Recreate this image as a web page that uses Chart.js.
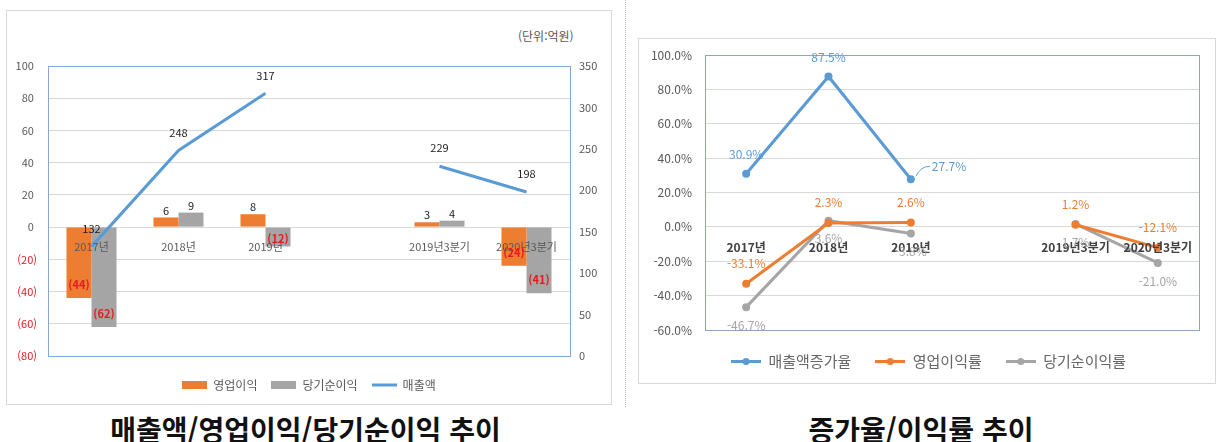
<!DOCTYPE html>
<html lang="ko">
<head>
<meta charset="utf-8">
<title>매출액/영업이익/당기순이익 추이</title>
<script src="https://cdn.jsdelivr.net/npm/chart.js@4.4.1/dist/chart.umd.min.js"></script>
<style>
  html, body { margin: 0; padding: 0; background: #fff; }
  body { width: 1221px; height: 442px; position: relative; overflow: hidden; font-family: "Noto Sans CJK KR", sans-serif; }
  .frame { position: absolute; border: 1px solid #d9d9d9; box-sizing: border-box; }
  .holder { position: absolute; }
  .caption { position: absolute; top: 413px; line-height: 32px; font-size: 28px; font-weight: bold; color: #111; text-align: center; }
  .divider { position: absolute; left: 625px; top: 0; height: 407px; border-left: 1px dotted #bdbdbd; }
  .unit { position: absolute; left: 518px; top: 28px; line-height: 16px; font-size: 12px; color: #595959; }
</style>
</head>
<body>
  <div class="frame" style="left:6px;top:10px;width:606px;height:395px;"></div>
  <div class="frame" style="left:638px;top:38px;width:578px;height:346px;"></div>
  <div class="divider"></div>
  <div class="unit">(단위:억원)</div>
  <div class="holder" style="left:6px;top:10px;"><canvas id="amountChart" width="606" height="391"></canvas></div>
  <div class="holder" style="left:638px;top:38px;"><canvas id="rateChart" width="577" height="341"></canvas></div>
  <div class="caption" style="left:0;width:611px;">매출액/영업이익/당기순이익 추이</div>
  <div class="caption" style="left:621px;width:600px;">증가율/이익률 추이</div>

<script>
// categories (the empty one is the gap Excel left between 2019 and the quarters)
const periods = ["2017년", "2018년", "2019년", "", "2019년3분기", "2020년3분기"];

// left chart, 억원
const operatingProfit = [-44, 6, 8, null, 3, -24];
const netProfit = [-62, 9, -12, null, 4, -41];
const sales = [132, 248, 317, null, 229, 198];
const profitAxis = [-80, 100, 20]; // min, max, step
const salesAxis = [0, 350, 50];

// right chart, %
const salesGrowth = [30.9, 87.5, 27.7, null, null, null];
const operatingMargin = [-33.1, 2.3, 2.6, null, 1.2, -12.1];
const netMargin = [-46.7, 3.6, -3.8, null, 1.7, -21.0];
const rateAxis = [-60, 100, 20];

const ORANGE = "#ED7D31";
const GRAY = "#A5A5A5";
const BLUE = "#5B9BD5";
const TICK = "#595959";
const FONT = "'Noto Sans CJK KR', sans-serif";

function legendMark(kind, color, w, h) {
  var c = document.createElement("canvas");
  c.width = w;
  c.height = h;
  var g = c.getContext("2d");
  if (kind === "box") {
    g.fillStyle = color;
    g.fillRect(0, 0, w, h);
  } else {
    g.strokeStyle = color;
    g.lineWidth = 3;
    g.beginPath();
    g.moveTo(0, h / 2);
    g.lineTo(w, h / 2);
    g.stroke();
    if (kind === "dot") {
      g.fillStyle = color;
      g.beginPath();
      g.arc(w / 2, h / 2, 3.5, 0, Math.PI * 2);
      g.fill();
    }
  }
  return c;
}

function legendLabels(marks, color) {
  return function (chart) {
    return chart.data.datasets.map(function (ds, i) {
      return {
        text: ds.label,
        pointStyle: marks[i],
        fontColor: color,
        fillStyle: "transparent",
        strokeStyle: "transparent",
        lineWidth: 0,
        hidden: false,
        datasetIndex: i,
      };
    });
  };
}

// outline of the plot area
function plotFrame(color) {
  return {
    id: "plotFrame",
    beforeDatasetsDraw: function (chart) {
      var a = chart.chartArea;
      var ctx = chart.ctx;
      ctx.save();
      ctx.strokeStyle = color;
      ctx.lineWidth = 1;
      ctx.strokeRect(Math.round(a.left) + 0.5, Math.round(a.top) + 0.5, Math.round(a.right - a.left), Math.round(a.bottom - a.top));
      ctx.restore();
    },
  };
}

// nudge the legend sideways
function legendShift(dx) {
  return {
    id: "legendShift",
    afterLayout: function (chart) {
      chart.legend.left += dx;
      chart.legend.right += dx;
    },
  };
}

// data labels, one placing function per dataset
function valueLabels(place) {
  return {
    id: "valueLabels",
    afterDraw: function (chart) {
      var ctx = chart.ctx;
      chart.data.datasets.forEach(function (ds, i) {
        var meta = chart.getDatasetMeta(i);
        meta.data.forEach(function (el, j) {
          var v = ds.data[j];
          if (v === null || v === undefined) return;
          var s = place[i](v, el, j);
          ctx.save();
          ctx.font = s.font;
          ctx.fillStyle = s.color;
          ctx.textAlign = s.align || "center";
          ctx.textBaseline = "middle";
          if (s.leader) {
            ctx.strokeStyle = s.color;
            ctx.lineWidth = 1;
            ctx.beginPath();
            ctx.moveTo(el.x + 5, el.y - 3);
            ctx.quadraticCurveTo(el.x + 10, el.y - 13, el.x + 19, el.y - 13);
            ctx.stroke();
          }
          ctx.fillText(s.text, s.x, s.y);
          ctx.restore();
        });
      });
    },
  };
}

function barLabel(v, el) {
  if (v < 0) {
    return {
      text: "(" + -v + ")",
      font: "bold 11px " + FONT,
      color: "#E8191B",
      x: el.x,
      y: Math.max(el.y - 13, el.base + 11),
    };
  }
  return { text: String(v), font: "11px " + FONT, color: "#222", x: el.x, y: el.y - 7 };
}

var amountMarks = [
  legendMark("box", ORANGE, 25, 8),
  legendMark("box", GRAY, 25, 8),
  legendMark("line", BLUE, 25, 8),
];

new Chart(document.getElementById("amountChart"), {
  type: "bar",
  data: {
    labels: periods,
    datasets: [
      {
        label: "영업이익",
        data: operatingProfit,
        backgroundColor: ORANGE,
        yAxisID: "y",
        order: 1,
      },
      {
        label: "당기순이익",
        data: netProfit,
        backgroundColor: GRAY,
        yAxisID: "y",
        order: 1,
      },
      {
        type: "line",
        label: "매출액",
        data: sales,
        borderColor: BLUE,
        backgroundColor: BLUE,
        borderWidth: 3,
        pointRadius: 0,
        spanGaps: false,
        yAxisID: "y1",
        order: 0,
      },
    ],
  },
  options: {
    responsive: false,
    animation: false,
    categoryPercentage: 0.575,
    barPercentage: 1,
    layout: { padding: { top: 56, left: 0, right: 0, bottom: 0 } },
    plugins: {
      tooltip: { enabled: false },
      legend: {
        position: "bottom",
        title: { display: true, text: "", font: { size: 9, lineHeight: 1 }, padding: 0 },
        labels: {
          usePointStyle: true,
          pointStyleWidth: 25,
          padding: 14,
          color: TICK,
          font: { family: FONT, size: 12 },
          generateLabels: legendLabels(amountMarks, TICK),
        },
      },
    },
    scales: {
      x: {
        position: { y: 0 },
        offset: true,
        grid: { display: false },
        border: { display: false },
        ticks: {
          z: 1,
          autoSkip: false,
          maxRotation: 0,
          padding: 5,
          color: TICK,
          font: { family: FONT, size: 11 },
        },
      },
      y: {
        position: "left",
        min: profitAxis[0],
        max: profitAxis[1],
        afterFit: function (scale) {
          scale.width = 42;
        },
        grid: { color: "#D9D9D9", drawTicks: false },
        border: { display: false },
        ticks: {
          stepSize: profitAxis[2],
          padding: 11,
          font: { family: FONT, size: 11 },
          color: function (c) {
            return c.tick && c.tick.value < 0 ? "#E8191B" : TICK;
          },
          callback: function (v) {
            return v < 0 ? "(" + -v + ")" : v + " ";
          },
        },
      },
      y1: {
        position: "right",
        min: salesAxis[0],
        max: salesAxis[1],
        afterFit: function (scale) {
          scale.width = 42;
        },
        grid: { display: false, drawTicks: false },
        border: { display: false },
        ticks: {
          stepSize: salesAxis[2],
          padding: 9,
          color: TICK,
          font: { family: FONT, size: 11 },
        },
      },
    },
  },
  plugins: [
    plotFrame("#86AAD6"),
    valueLabels([
      barLabel,
      barLabel,
      function (v, el) {
        return { text: String(v), font: "11px " + FONT, color: "#222", x: el.x, y: el.y - 18 };
      },
    ]),
  ],
});

var rateMarks = [
  legendMark("dot", BLUE, 30, 9),
  legendMark("dot", ORANGE, 30, 9),
  legendMark("dot", GRAY, 30, 9),
];

function pct(v) {
  return v.toFixed(1) + "%";
}

new Chart(document.getElementById("rateChart"), {
  type: "line",
  data: {
    labels: periods,
    datasets: [
      {
        label: "매출액증가율",
        data: salesGrowth,
        borderColor: BLUE,
        backgroundColor: BLUE,
      },
      {
        label: "영업이익률",
        data: operatingMargin,
        borderColor: ORANGE,
        backgroundColor: ORANGE,
      },
      {
        label: "당기순이익률",
        data: netMargin,
        borderColor: GRAY,
        backgroundColor: GRAY,
      },
    ],
  },
  options: {
    responsive: false,
    animation: false,
    spanGaps: false,
    elements: {
      line: { borderWidth: 3, tension: 0 },
      point: { radius: 4, borderWidth: 0 },
    },
    layout: { padding: { top: 17, left: 0, right: 16, bottom: 0 } },
    plugins: {
      tooltip: { enabled: false },
      legend: {
        position: "bottom",
        labels: {
          usePointStyle: true,
          pointStyleWidth: 30,
          padding: 24,
          color: TICK,
          font: { family: FONT, size: 15 },
          generateLabels: legendLabels(rateMarks, "#666"),
        },
      },
    },
    scales: {
      x: {
        position: { y: 0 },
        offset: true,
        grid: { display: false },
        border: { display: false },
        ticks: {
          z: 1,
          autoSkip: false,
          maxRotation: 0,
          padding: 5,
          color: "#404040",
          font: { family: FONT, size: 12, weight: "bold" },
        },
      },
      y: {
        min: rateAxis[0],
        max: rateAxis[1],
        afterFit: function (scale) {
          scale.width = 67;
          scale.paddingTop = 0;
          scale.paddingBottom = 0;
        },
        grid: { color: "#D9D9D9", drawTicks: false },
        border: { display: false },
        ticks: {
          stepSize: rateAxis[2],
          padding: 13,
          color: TICK,
          font: { family: FONT, size: 12 },
          callback: pct,
        },
      },
    },
  },
  plugins: [
    plotFrame("#8CA6C4"),
    legendShift(10),
    valueLabels([
      function (v, el, j) {
        if (j === 2) {
          return { text: pct(v), font: "12px " + FONT, color: BLUE, x: el.x + 21, y: el.y - 13, align: "left", leader: true };
        }
        return { text: pct(v), font: "12px " + FONT, color: BLUE, x: el.x, y: el.y - 19 };
      },
      function (v, el) {
        return { text: pct(v), font: "12px " + FONT, color: ORANGE, x: el.x, y: el.y - 20 };
      },
      function (v, el) {
        return { text: pct(v), font: "12px " + FONT, color: GRAY, x: el.x, y: el.y + 18 };
      },
    ]),
  ],
});
</script>
</body>
</html>
